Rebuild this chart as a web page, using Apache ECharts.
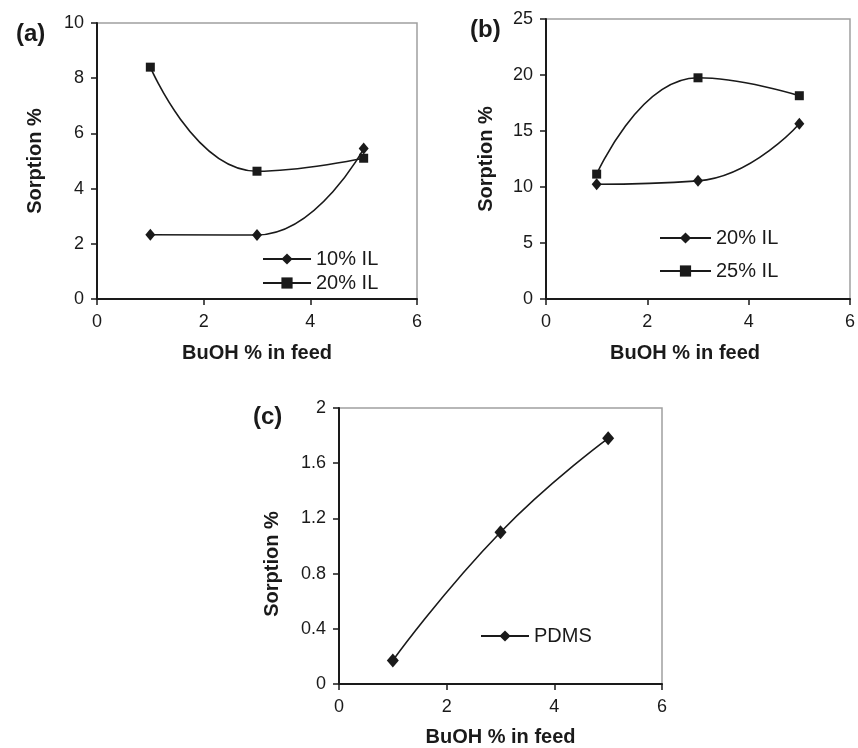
<!DOCTYPE html>
<html>
<head>
<meta charset="utf-8">
<script src="https://cdn.jsdelivr.net/npm/echarts@6/dist/echarts.min.js"></script>
<style>
  html, body { margin: 0; padding: 0; background: #fff; }
  #main { width: 858px; height: 748px; }
</style>
</head>
<body>
<div id="main"></div>
<script>
// BuOH % in feed (x values, same for every panel)
var buohFeed = [1, 3, 5];

// (a) sorption %
var aIL10 = [2.33, 2.32, 5.45];
var aIL20 = [8.40, 4.63, 5.10];
// (b) sorption %
var bIL20 = [10.25, 10.55, 15.65];
var bIL25 = [11.15, 19.75, 18.15];
// (c) sorption %
var cPDMS = [0.17, 1.10, 1.78];

// axis ranges [min, max, interval]
var xRange = [0, 6, 2];
var yRangeA = [0, 10, 2];
var yRangeB = [0, 25, 5];
var yRangeC = [0, 2, 0.4];

var FONT = '"Liberation Sans", Arial, Helvetica, sans-serif';
var INK = '#1a1a1a';

function pts(ys) {
  return buohFeed.map(function (x, i) { return [x, ys[i]]; });
}

function xAxisOf(idx, gap, namePad) {
  return {
    type: 'value', gridIndex: idx,
    min: xRange[0], max: xRange[1], interval: xRange[2],
    name: 'BuOH % in feed', nameLocation: 'middle', nameGap: gap,
    nameTextStyle: { fontFamily: FONT, fontSize: 20, fontWeight: 'bold', color: INK, padding: namePad || 0 },
    axisLine: { lineStyle: { color: INK, width: 2 } },
    axisTick: { show: true, length: 6, lineStyle: { color: INK, width: 1.5 } },
    axisLabel: { fontFamily: FONT, fontSize: 18, color: INK, margin: 14 },
    splitLine: { show: false }
  };
}

function yAxisOf(idx, r, gap, namePad) {
  return {
    type: 'value', gridIndex: idx,
    min: r[0], max: r[1], interval: r[2],
    name: 'Sorption %', nameLocation: 'middle', nameGap: gap,
    nameTextStyle: { fontFamily: FONT, fontSize: 20, fontWeight: 'bold', color: INK, padding: namePad || 0 },
    axisLine: { show: true, lineStyle: { color: INK, width: 2 } },
    axisTick: { show: true, length: 6, lineStyle: { color: INK, width: 1.5 } },
    axisLabel: { fontFamily: FONT, fontSize: 18, color: INK, margin: 13 },
    splitLine: { show: false }
  };
}

function lineSeries(name, idx, ys, symbol, size) {
  return {
    name: name, type: 'line',
    xAxisIndex: idx, yAxisIndex: idx,
    data: pts(ys),
    smooth: 0.5,
    symbol: symbol, symbolSize: size,
    itemStyle: { color: INK },
    lineStyle: { color: INK, width: 1.6 },
    emphasis: { disabled: true },
    z: 3
  };
}

function legendOf(names, left, top, w, gap) {
  return {
    data: names, orient: 'vertical', left: left, top: top,
    itemWidth: w, itemHeight: 14, itemGap: gap,
    selectedMode: false,
    textStyle: { fontFamily: FONT, fontSize: 20, color: INK }
  };
}

var chart = echarts.init(document.getElementById('main'));

chart.setOption({
  backgroundColor: '#fff',
  animation: false,
  title: [
    { text: '(a)', left: 11, top: 17, textStyle: { fontFamily: FONT, fontSize: 24, fontWeight: 'bold', color: INK } },
    { text: '(b)', left: 465, top: 13, textStyle: { fontFamily: FONT, fontSize: 24, fontWeight: 'bold', color: INK } },
    { text: '(c)', left: 248, top: 400, textStyle: { fontFamily: FONT, fontSize: 24, fontWeight: 'bold', color: INK } }
  ],
  grid: [
    { left: 97, top: 23, right: 441, bottom: 449, show: true, borderColor: '#a0a0a0', borderWidth: 1.5 },
    { left: 546, top: 19, right: 6, bottom: 449, show: true, borderColor: '#a0a0a0', borderWidth: 1.5 },
    { left: 339, top: 408, right: 196, bottom: 61, show: true, borderColor: '#a0a0a0', borderWidth: 1.5 }
  ],
  xAxis: [xAxisOf(0, 44), xAxisOf(1, 44, [0, 26, 0, 0]), xAxisOf(2, 43)],
  yAxis: [
    yAxisOf(0, yRangeA, 52),
    yAxisOf(1, yRangeB, 50),
    yAxisOf(2, yRangeC, 57, [0, 36, 0, 0])
  ],
  legend: [
    legendOf(['10% IL', '20% IL'], 257, 244, 48, 4),
    legendOf(['20% IL ', '25% IL'], 654, 223, 51, 13),
    legendOf(['PDMS'], 475, 621, 48, 4)
  ],
  series: [
    lineSeries('10% IL', 0, aIL10, 'diamond', [10, 12]),
    lineSeries('20% IL', 0, aIL20, 'rect', 9),
    lineSeries('20% IL ', 1, bIL20, 'diamond', [10, 12]),
    lineSeries('25% IL', 1, bIL25, 'rect', 9),
    lineSeries('PDMS', 2, cPDMS, 'diamond', [12, 14])
  ]
});
</script>
</body>
</html>
